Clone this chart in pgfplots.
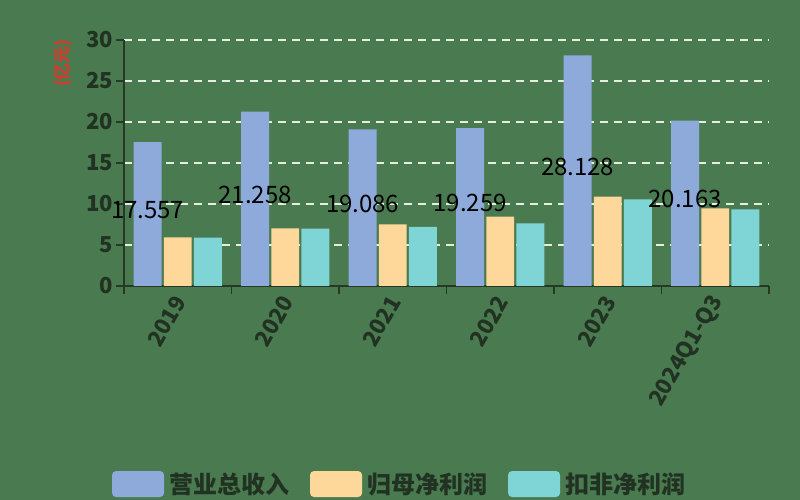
\documentclass[border=0pt]{standalone}
\usepackage{fontspec}
\setmainfont{Noto Sans CJK SC}
\usepackage{pgfplots}
\pgfplotsset{compat=1.18}
\definecolor{bgc}{HTML}{4A7A4F}
\definecolor{bluec}{HTML}{8EAADB}
\definecolor{orangec}{HTML}{FDD89A}
\definecolor{tealc}{HTML}{7FD4D6}
\definecolor{axisc}{HTML}{263826}
\definecolor{textc}{HTML}{223222}
\definecolor{gridc}{HTML}{E6EEE0}
\definecolor{redc}{HTML}{D8392B}
\begin{document}
\begin{tikzpicture}[x=1pt,y=1pt]
\fill[bgc] (0,0) rectangle (800,500);
\useasboundingbox (0,0) rectangle (800,500);
\begin{axis}[
  at={(124pt,214pt)}, anchor=south west,
  width=645pt, height=246pt, scale only axis,
  xmin=-0.5, xmax=5.5, ymin=0, ymax=30,
  axis lines=left,
  axis line style={-, draw=axisc, line width=1.5pt},
  xtick={-0.5,0.5,1.5,2.5,3.5,4.5,5.5},
  x tick label as interval,
  xticklabels={2019,2020,2021,2022,2023,2024Q1-Q3},
  ytick={0,5,10,15,20,25,30},
  tick align=outside,
  major tick length=8pt,
  tick style={draw=axisc, line width=1.2pt},
  /pgf/number format/assume math mode=true,
  ticklabel style={font=\fontsize{22}{26}\selectfont\bfseries, text=textc},
  yticklabel style={inner sep=3pt},
  xticklabel style={rotate=60, anchor=east, inner sep=2pt, yshift=-4pt},
  ymajorgrids,
  grid style={draw=gridc, line width=1.8pt, dash pattern=on 8pt off 6pt},
  ylabel={(亿元)},
  every axis y label/.style={at={(axis description cs:-0.0946,0.906)}, rotate=90, anchor=center, font=\fontsize{17}{20}\selectfont\bfseries, text=redc},
  legend columns=3,
  legend style={at={(axis description cs:0.428,-0.805)}, anchor=center, draw=none, fill=none,
    font=\fontsize{24}{28}\selectfont\bfseries, text=textc,
    /tikz/every odd column/.append style={column sep=2pt},
    /tikz/every even column/.append style={column sep=18pt},
    nodes={inner sep=3pt}},
  legend image code/.code={\path[#1, draw=none, rounded corners=4pt] (0pt,-13pt) rectangle (52pt,13pt);},
]
\addplot[ybar, bar width=0.26, bar shift=-0.28, fill=bluec, draw=none] coordinates {
(0,17.557) (1,21.258) (2,19.086) (3,19.259) (4,28.128) (5,20.163)};
\addlegendentry{营业总收入}
\addplot[ybar, bar width=0.26, bar shift=0, fill=orangec, draw=none] coordinates {
(0,5.94) (1,7.04) (2,7.5) (3,8.45) (4,10.9) (5,9.47)};
\addlegendentry{归母净利润}
\addplot[ybar, bar width=0.26, bar shift=0.28, fill=tealc, draw=none] coordinates {
(0,5.9) (1,7.0) (2,7.2) (3,7.65) (4,10.57) (5,9.35)};
\addlegendentry{扣非净利润}
\addplot[draw=none, mark=none, forget plot, nodes near coords, point meta=explicit symbolic,
  nodes near coords style={anchor=center, font=\fontsize{24}{28}\selectfont, text=black, inner sep=0pt}]
 coordinates {
(-0.28,9.28)[17.557] (0.72,11.13)[21.258] (1.72,10.04)[19.086] (2.72,10.13)[19.259] (3.72,14.56)[28.128] (4.72,10.58)[20.163]};
\end{axis}
\end{tikzpicture}
\end{document}
